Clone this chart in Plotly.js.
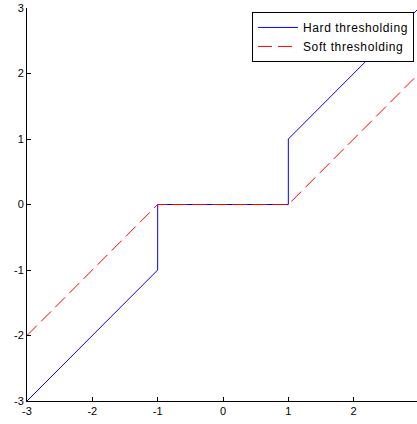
<!DOCTYPE html>
<html>
<head>
<meta charset="utf-8">
<script src="https://cdn.plot.ly/plotly-3.0.1.min.js"></script>
<style>
html,body{margin:0;padding:0;overflow:hidden;background:#fff;}
#chart{width:419px;height:424px;}
.legendtext{letter-spacing:0.6px;}
</style>
</head>
<body>
<div id="chart"></div>
<script>
const hardX = [-3, -1, -1, 1, 1, 3];
const hardY = [-3, -1, 0, 0, 1, 3];
const softX = [-3, -1, 1, 3];
const softY = [-2, 0, 0, 2];
const seriesNames = ["Hard thresholding", "Soft thresholding"];
const tickVals = [-3, -2, -1, 0, 1, 2, 3];

const traces = [
  {x: hardX, y: hardY, mode: 'lines', name: seriesNames[0],
   line: {color: '#0000ff', width: 1}},
  {x: softX, y: softY, mode: 'lines', name: seriesNames[1],
   line: {color: '#ff0000', width: 1, dash: '14px,6px'}}
];

const axisCommon = {
  showline: true, linecolor: '#000', linewidth: 1,
  ticks: 'inside', ticklen: 4, tickcolor: '#000', tickwidth: 1,
  showgrid: false, zeroline: false, mirror: false,
  tickfont: {family: 'Liberation Sans, Arial, sans-serif', size: 11, color: '#000'},
  tickvals: tickVals, ticktext: tickVals.map(String)
};

const layout = {
  width: 419, height: 424,
  margin: {l: 27, r: 0, t: 8, b: 23, pad: 0},
  paper_bgcolor: '#fff', plot_bgcolor: '#fff',
  xaxis: Object.assign({}, axisCommon, {range: [-3, 3]}),
  yaxis: Object.assign({}, axisCommon, {range: [-3, 3]}),
  showlegend: true,
  legend: {
    x: 0.574, y: 0.99, xanchor: 'left', yanchor: 'top',
    bgcolor: '#fff', bordercolor: '#000', borderwidth: 1,
    font: {family: 'Liberation Sans, Arial, sans-serif', size: 12, color: '#000'},
    tracegroupgap: 0, itemwidth: 40
  }
};

Plotly.newPlot('chart', traces, layout, {displayModeBar: false, staticPlot: true});
</script>
</body>
</html>
